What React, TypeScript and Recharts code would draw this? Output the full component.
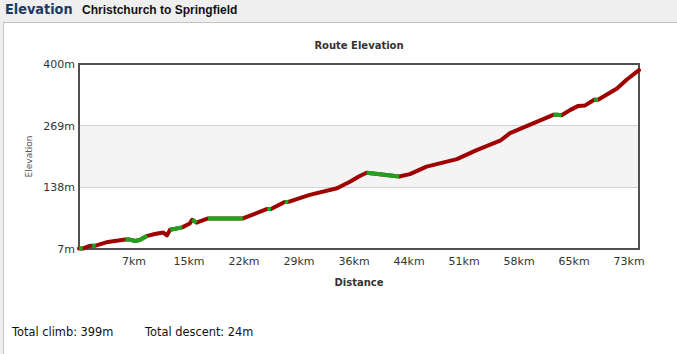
import {
  ComposedChart,
  Line,
  XAxis,
  YAxis,
  CartesianGrid,
  ReferenceArea,
} from "recharts";

// route profile (km, metres)
const distances = [
  0, 0.5, 1.3, 1.7, 2.2, 3.8, 6.1, 6.7, 7.4, 8.0, 9.0, 10.0, 11.1, 11.6, 12.0, 13.6,
  14.6, 14.9, 15.5, 17.0, 21.6, 24.8, 25.3, 27.1, 27.6, 30.4, 34.0, 35.7, 37.0, 37.9,
  42.2, 43.6, 45.8, 49.8, 52.4, 55.5, 56.8, 62.5, 63.0, 63.6, 64.7, 65.8, 66.7, 67.9,
  68.4, 70.9, 72.2, 73.8,
];
const elevations = [
  8, 8, 13, 14, 14, 22, 27, 27, 24, 26, 35, 39, 42, 36, 48, 53,
  61, 69, 63, 72, 72, 92, 92, 107, 107, 122, 136, 150, 162, 169,
  161, 166, 182, 198, 217, 237, 253, 292, 292, 291, 302, 311, 312, 324,
  324, 348, 367, 387,
];
// 1 = the stretch from this point to the next is drawn green (flat / downhill)
const flatOrDown = [
  1, 0, 0, 1, 0, 0, 1, 1, 1, 1, 0, 0, 0, 0, 1, 0,
  0, 1, 0, 1, 0, 1, 0, 1, 0, 0, 0, 0, 0, 1,
  0, 0, 0, 0, 0, 0, 0, 1, 1, 0, 0, 0, 0, 1,
  0, 0, 0, 0,
];

const yTicks = [7, 138, 269, 400];
const xTickValues = [7.25, 14.5, 21.75, 29, 36.25, 43.5, 50.75, 58, 65.25, 72.5];
const xTickLabels = ["7km", "15km", "22km", "29km", "36km", "44km", "51km", "58km", "65km", "73km"];

const totalClimb = 399;
const totalDescent = 24;

type Row = { km: number; elev: number | null; green: number | null };

// green values only around flagged stretches; an empty row is slipped in
// where two green stretches would otherwise get joined across a red one
const data: Row[] = [];
distances.forEach((d, i) => {
  const hasGreen = !!(flatOrDown[i] || flatOrDown[i - 1]);
  data.push({ km: d, elev: elevations[i], green: hasGreen ? elevations[i] : null });
  const nextHasGreen = !!(flatOrDown[i + 1] || flatOrDown[i]);
  if (i < distances.length - 1 && hasGreen && nextHasGreen && !flatOrDown[i]) {
    data.push({ km: (d + distances[i + 1]) / 2, elev: null, green: null });
  }
});

const RED = "#a00000";
const GREEN = "#1fa31f";
const FONT = "'DejaVu Sans', Verdana, sans-serif";
const tickStyle = { fontSize: 11, fill: "#333", fontFamily: FONT };

export default function App() {
  return (
    <div
      style={{
        position: "absolute",
        left: 0,
        top: 0,
        width: 677,
        height: 354,
        overflow: "hidden",
        background: "#efefef",
      }}
    >
      <div
        style={{
          position: "absolute",
          left: 5,
          top: 1,
          fontFamily: FONT,
          fontSize: 14,
          fontWeight: "bold",
          color: "#1c3b63",
          whiteSpace: "nowrap",
          transform: "scaleX(0.92)",
          transformOrigin: "left top",
        }}
      >
        Elevation
      </div>
      <div
        style={{
          position: "absolute",
          left: 82,
          top: 3,
          fontFamily: "'Liberation Sans', Arial, sans-serif",
          fontSize: 12,
          fontWeight: "bold",
          color: "#111",
          whiteSpace: "nowrap",
        }}
      >
        Christchurch to Springfield
      </div>

      <div
        style={{
          position: "absolute",
          left: 3,
          top: 22,
          width: 700,
          height: 360,
          background: "#fff",
          borderLeft: "1px solid #c4c4c4",
          borderTop: "1px solid #c4c4c4",
        }}
      />

      <div
        style={{
          position: "absolute",
          left: 0,
          top: 40,
          width: 718,
          textAlign: "center",
          fontFamily: FONT,
          fontSize: 10,
          fontWeight: "bold",
          color: "#333",
        }}
      >
        Route Elevation
      </div>

      <div style={{ position: "absolute", left: 0, top: 0 }}>
        <ComposedChart
          width={677}
          height={300}
          data={data}
          margin={{ top: 64, right: 38, left: 19, bottom: 21 }}
        >
          <ReferenceArea y1={138} y2={269} fill="#f4f4f4" fillOpacity={1} stroke="none" />
          <CartesianGrid vertical={false} stroke="#bdbdbd" horizontalValues={[138, 269]} />
          <XAxis
            dataKey="km"
            type="number"
            domain={[0, 73.8]}
            ticks={xTickValues}
            interval={0}
            tickFormatter={(v: number) => xTickLabels[xTickValues.indexOf(v)]}
            tick={tickStyle}
            tickLine={false}
            tickSize={0}
            tickMargin={8}
            axisLine={false}
            height={30}
            label={{
              value: "Distance",
              position: "insideBottom",
              offset: -7,
              style: { fontSize: 10, fontWeight: "bold", fill: "#333", fontFamily: FONT },
            }}
          />
          <YAxis
            type="number"
            domain={[7, 400]}
            ticks={yTicks}
            interval={0}
            tickFormatter={(v: number) => `${v}m`}
            tick={tickStyle}
            tickLine={false}
            tickSize={0}
            tickMargin={4}
            axisLine={false}
            width={60}
            label={{
              value: "Elevation",
              angle: -90,
              position: "insideLeft",
              offset: 10,
              style: { textAnchor: "middle", fontSize: 9, fill: "#555", fontFamily: FONT },
            }}
          />
          <Line
            dataKey="elev"
            type="linear"
            stroke={RED}
            strokeWidth={4}
            strokeLinejoin="round"
            strokeLinecap="round"
            dot={false}
            activeDot={false}
            connectNulls
            isAnimationActive={false}
          />
          <Line
            dataKey="green"
            type="linear"
            stroke={GREEN}
            strokeWidth={4}
            strokeLinejoin="round"
            strokeLinecap="butt"
            dot={false}
            activeDot={false}
            connectNulls={false}
            isAnimationActive={false}
          />
          <ReferenceArea
            x1={0}
            x2={73.8}
            y1={7}
            y2={400}
            fill="none"
            stroke="#505050"
            strokeWidth={2}
            ifOverflow="visible"
          />
        </ComposedChart>
      </div>

      <div
        style={{
          position: "absolute",
          left: 12,
          top: 325,
          fontFamily: FONT,
          fontSize: 11.4,
          color: "#111",
          whiteSpace: "nowrap",
        }}
      >
        <span>Total climb: {totalClimb}m</span>
        <span style={{ position: "absolute", left: 133 }}>Total descent: {totalDescent}m</span>
      </div>
    </div>
  );
}
